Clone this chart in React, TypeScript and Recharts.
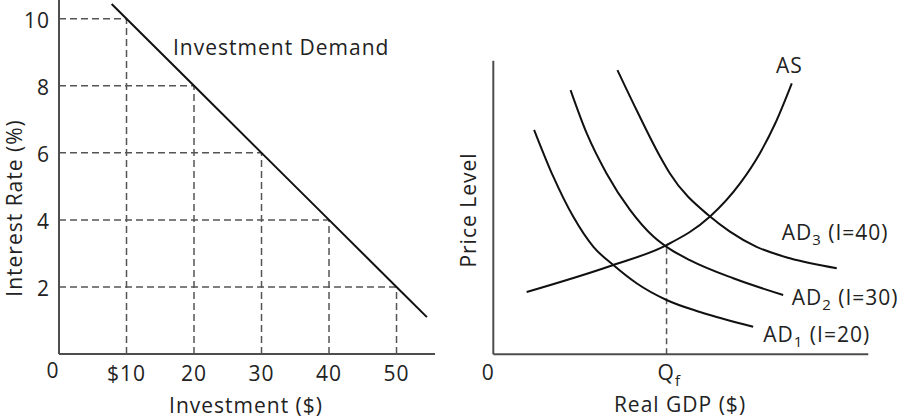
import React from "react";
import { LineChart, Line, XAxis, YAxis, ReferenceLine } from "recharts";

// left panel: investment demand (straight line)
const investment = [7.8, 10, 20, 30, 40, 50, 54.5];
const interestRate = [10.44, 10, 8, 6, 4, 2, 1.1];
const guideInvestment = [10, 20, 30, 40, 50];
const guideRate = [10, 8, 6, 4, 2];
const investTicks = [0, 10, 20, 30, 40, 50];
const rateTicks = [2, 4, 6, 8, 10];

// right panel: AS / AD curves (arbitrary units)
const asGdp = [8.9, 32.0, 46.2, 57.8, 65.8, 71.1, 75.2, 79.6];
const asPrice = [21.2, 30.4, 37.2, 46.9, 58.2, 68.5, 78.7, 92.3];
const ad1Gdp = [10.9, 16.0, 21.3, 26.7, 32.0, 38.2, 46.2, 55.1, 69.3];
const ad1Price = [76.4, 60.5, 46.9, 36.6, 30.4, 24.2, 18.5, 14.4, 9.4];
const ad2Gdp = [20.6, 24.9, 30.2, 36.5, 42.7, 46.2, 52.4, 64.0, 77.3];
const ad2Price = [90.0, 75.3, 61.6, 49.1, 40.1, 36.6, 32.1, 25.9, 20.2];
const ad3Gdp = [33.1, 38.2, 44.5, 47.1, 57.8, 63.1, 70.2, 79.1, 91.6];
const ad3Price = [96.8, 83.2, 67.3, 61.6, 46.9, 41.8, 36.6, 32.7, 29.3];
const qf = 46.2;
const qfPrice = 37.2;

const zip = (xs: number[], ys: number[]) => xs.map((x, i) => ({ x, y: ys[i] }));

const FONT = "'Open Sans', sans-serif";
const INK = "#222";
const AXIS = "#4d4d4d";
const txt = { fontFamily: FONT, fontSize: 21, letterSpacing: 1, fill: INK } as const;

const LeftXTick = (props: any) => {
  const { x, y, payload } = props;
  const v = payload.value;
  const label = v === 0 ? "0" : v === 10 ? "$10" : String(v);
  return (
    <text x={x + (v === 0 ? -6 : 0)} y={y + (v === 0 ? 24 : 27)} textAnchor="middle" style={txt}>
      {label}
    </text>
  );
};

const LeftYTick = (props: any) => {
  const { x, y, payload } = props;
  return (
    <text x={x - 9} y={y + 9} textAnchor="end" style={txt}>
      {payload.value}
    </text>
  );
};

const RightXTick = (props: any) => {
  const { x, y, payload } = props;
  if (payload.value === 0) {
    return (
      <text x={x - 5} y={y + 26} textAnchor="middle" style={txt}>0</text>
    );
  }
  return (
    <text x={x - 9} y={y + 26} style={txt}>
      Q<tspan fontSize={15} dy={6}>f</tspan>
    </text>
  );
};

const Sub = ({ x, y, n, rest }: { x: number; y: number; n: string; rest: string }) => (
  <text x={x} y={y} style={txt}>
    AD<tspan style={{ fontSize: 15 }} dy={5}>{n}</tspan>
    <tspan dy={-5}>{" " + rest}</tspan>
  </text>
);

export default function App() {
  const demand = zip(investment, interestRate);
  return (
    <div style={{ position: "absolute", left: 0, top: 0, width: 904, height: 420, background: "#fff" }}>
      <div style={{ position: "absolute", left: 0, top: 0 }}>
        <LineChart width={450} height={420} margin={{ top: 0, right: 15, bottom: 0, left: 0 }}>
          <XAxis
            type="number"
            dataKey="x"
            domain={[0, 55.7]}
            ticks={investTicks}
            allowDataOverflow
            height={66}
            tickLine={false}
            tickSize={0}
            tickMargin={0}
            tick={<LeftXTick />}
            axisLine={{ stroke: AXIS, strokeWidth: 2 }}
          />
          <YAxis
            type="number"
            dataKey="y"
            domain={[0, 10.56]}
            ticks={rateTicks}
            allowDataOverflow
            width={59}
            tickLine={false}
            tickSize={0}
            tickMargin={0}
            tick={<LeftYTick />}
            axisLine={{ stroke: AXIS, strokeWidth: 2 }}
          />
          {guideInvestment.map((inv, i) => (
            <ReferenceLine
              key={`h${i}`}
              segment={[{ x: 0, y: guideRate[i] }, { x: inv, y: guideRate[i] }]}
              stroke="#555"
              strokeWidth={1.5}
              strokeDasharray="7 4"
            />
          ))}
          {guideInvestment.map((inv, i) => (
            <ReferenceLine
              key={`v${i}`}
              segment={[{ x: inv, y: 0 }, { x: inv, y: guideRate[i] }]}
              stroke="#555"
              strokeWidth={1.5}
              strokeDasharray="7 4"
            />
          ))}
          <Line data={demand} dataKey="y" type="linear" stroke="#111" strokeWidth={2} dot={false} isAnimationActive={false} />
        </LineChart>
      </div>

      <div style={{ position: "absolute", left: 450, top: 0 }}>
        <LineChart width={454} height={420} margin={{ top: 60.7, right: 35.7, bottom: 0, left: 0 }}>
          <XAxis
            type="number"
            dataKey="x"
            domain={[0, 100]}
            ticks={[0, qf]}
            allowDataOverflow
            height={65.7}
            tickLine={false}
            tickSize={0}
            tickMargin={0}
            tick={<RightXTick />}
            axisLine={{ stroke: AXIS, strokeWidth: 2 }}
          />
          <YAxis
            type="number"
            dataKey="y"
            domain={[0, 100]}
            allowDataOverflow
            width={43.3}
            tick={false}
            tickLine={false}
            axisLine={{ stroke: AXIS, strokeWidth: 2 }}
          />
          <ReferenceLine
            segment={[{ x: qf, y: 0 }, { x: qf, y: qfPrice }]}
            stroke="#555"
            strokeWidth={1.5}
            strokeDasharray="6 4"
          />
          <Line data={zip(asGdp, asPrice)} dataKey="y" type="monotone" stroke="#111" strokeWidth={2} dot={false} isAnimationActive={false} />
          <Line data={zip(ad1Gdp, ad1Price)} dataKey="y" type="monotone" stroke="#111" strokeWidth={2} dot={false} isAnimationActive={false} />
          <Line data={zip(ad2Gdp, ad2Price)} dataKey="y" type="monotone" stroke="#111" strokeWidth={2} dot={false} isAnimationActive={false} />
          <Line data={zip(ad3Gdp, ad3Price)} dataKey="y" type="monotone" stroke="#111" strokeWidth={2} dot={false} isAnimationActive={false} />
        </LineChart>
      </div>

      <svg width={904} height={420} style={{ position: "absolute", left: 0, top: 0, pointerEvents: "none" }}>
        <text x={173} y={55} style={txt}>Investment Demand</text>
        <text x={22} y={208} textAnchor="middle" transform="rotate(-90 22 208)" style={txt}>Interest Rate (%)</text>
        <text x={246} y={413} textAnchor="middle" style={txt}>Investment ($)</text>
        <text x={476} y={210} textAnchor="middle" transform="rotate(-90 476 210)" style={txt}>Price Level</text>
        <text x={680} y={412} textAnchor="middle" style={txt}>Real GDP ($)</text>
        <text x={776} y={73} style={txt}>AS</text>
        <Sub x={781.7} y={240} n="3" rest="(I=40)" />
        <Sub x={791.7} y={305} n="2" rest="(I=30)" />
        <Sub x={763.3} y={341.7} n="1" rest="(I=20)" />
      </svg>
    </div>
  );
}
